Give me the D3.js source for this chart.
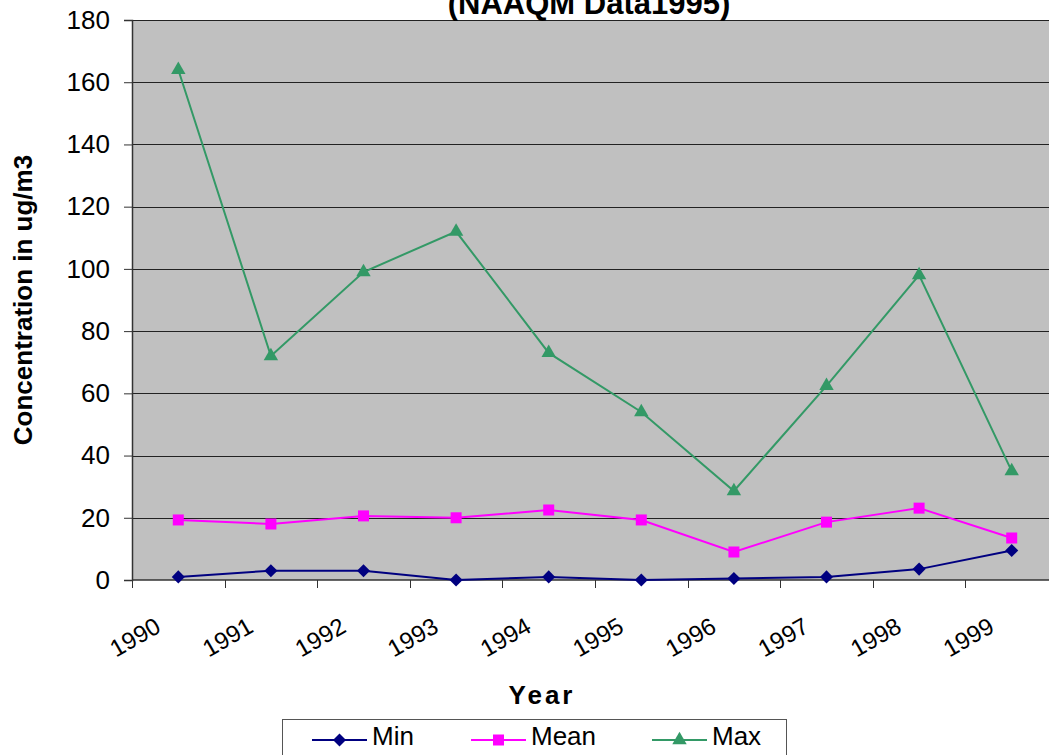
<!DOCTYPE html>
<html>
<head>
<meta charset="utf-8">
<script src="https://cdn.jsdelivr.net/npm/d3@7"></script>
<style>
  body { margin: 0; background: #fff; overflow: hidden; }
  text { font-family: "Liberation Sans", Arial, sans-serif; }
</style>
</head>
<body>
<svg id="chart" width="1049" height="755"></svg>
<script>
const years = ['1990','1991','1992','1993','1994','1995','1996','1997','1998','1999']
const minVals = [1, 3, 3, 0, 1, 0, 0.5, 1, 3.5, 9.5]
const meanVals = [19.3, 18, 20.6, 20, 22.5, 19.3, 9, 18.6, 23.1, 13.5]
const maxVals = [164, 72, 99, 112, 73, 54, 28.6, 62.4, 98, 35]
const yTicks = [0, 20, 40, 60, 80, 100, 120, 140, 160, 180]

const M = {top: 20, left: 132, right: 1058, bottom: 580}

// diamond = square turned 45 degrees
let series = [
    {name: 'Min', values: minVals, color: '#000080', shape: d3.symbolSquare, size: 85, rot: 45},
    {name: 'Mean', values: meanVals, color: '#ff00ff', shape: d3.symbolSquare, size: 121, rot: 0},
    {name: 'Max', values: maxVals, color: '#339966', shape: d3.symbolTriangle, size: 90, rot: 0}
]

let svg = d3.select('#chart')

let x = d3.scaleBand()
    .domain(years)
    .range([M.left, M.right])

let y = d3.scaleLinear()
    .domain([0, 180])
    .range([M.bottom, M.top])

// plot area
svg.append('rect')
    .attr('x', M.left)
    .attr('y', M.top)
    .attr('width', M.right - M.left)
    .attr('height', M.bottom - M.top)
    .attr('fill', '#c0c0c0')

// gridlines
svg.append('g')
    .selectAll('line')
    .data(yTicks.filter(d => d > 0))
    .enter()
    .append('line')
    .attr('x1', M.left)
    .attr('x2', M.right)
    .attr('y1', d => Math.round(y(d)) + 0.5)
    .attr('y2', d => Math.round(y(d)) + 0.5)
    .attr('stroke', '#222')
    .attr('stroke-width', 1)

// y axis
let yAxis = svg.append('g')
    .attr('transform', 'translate(' + M.left + ',0)')
    .call(d3.axisLeft(y).tickValues(yTicks).tickSize(8).tickPadding(14))
yAxis.selectAll('text')
    .style('font-size', '26px')
    .attr('fill', '#000')
yAxis.selectAll('line').attr('stroke', '#333')
yAxis.select('.domain').attr('stroke', '#333').attr('stroke-width', 1.5)

// x axis: ticks on category boundaries
let xAxis = svg.append('g')
    .attr('transform', 'translate(0,' + M.bottom + ')')
xAxis.append('line')
    .attr('x1', M.left)
    .attr('x2', M.right)
    .attr('stroke', '#333')
    .attr('stroke-width', 1.5)
xAxis.selectAll('.tk')
    .data(years)
    .enter()
    .append('line')
    .attr('class', 'tk')
    .attr('x1', d => Math.round(x(d)) + 0.5)
    .attr('x2', d => Math.round(x(d)) + 0.5)
    .attr('y1', 0)
    .attr('y2', 8)
    .attr('stroke', '#333')

xAxis.selectAll('.lbl')
    .data(years)
    .enter()
    .append('text')
    .attr('class', 'lbl')
    .attr('text-anchor', 'end')
    .attr('transform', d => 'translate(' + (x(d) + x.bandwidth() / 2 - 16) + ',51) rotate(-30)')
    .style('font-size', '24px')
    .text(d => d)

// lines and markers
let line = d3.line()
    .x((d, i) => x(years[i]) + x.bandwidth() / 2)
    .y(d => y(d))

series.forEach(s => {
    svg.append('path')
        .datum(s.values)
        .attr('d', line)
        .attr('fill', 'none')
        .attr('stroke', s.color)
        .attr('stroke-width', 2)

    svg.append('g')
        .selectAll('path')
        .data(s.values)
        .enter()
        .append('path')
        .attr('d', d3.symbol().type(s.shape).size(s.size))
        .attr('transform', (d, i) => 'translate(' + (x(years[i]) + x.bandwidth() / 2) + ',' + y(d) + ') rotate(' + s.rot + ')')
        .attr('fill', s.color)
})

// titles (first title line is above the visible area)
svg.append('text')
    .attr('x', 589)
    .attr('y', 14)
    .attr('text-anchor', 'middle')
    .style('font-size', '31px')
    .style('font-weight', 'bold')
    .text('(NAAQM Data1995)')

svg.append('text')
    .attr('x', 542)
    .attr('y', 704)
    .attr('text-anchor', 'middle')
    .style('font-size', '26px')
    .style('font-weight', 'bold')
    .style('letter-spacing', '3px')
    .text('Year')

svg.append('text')
    .attr('transform', 'translate(32,300) rotate(-90)')
    .attr('text-anchor', 'middle')
    .style('font-size', '26px')
    .style('font-weight', 'bold')
    .text('Concentration in ug/m3')

// legend
let legend = svg.append('g')
legend.append('rect')
    .attr('x', 282.5)
    .attr('y', 719.5)
    .attr('width', 504)
    .attr('height', 50)
    .attr('fill', '#fff')
    .attr('stroke', '#555')

let legX = [312, 471, 652]
series.forEach((s, i) => {
    let g = legend.append('g').attr('transform', 'translate(' + legX[i] + ',740)')
    g.append('line')
        .attr('x1', 0)
        .attr('x2', 55)
        .attr('stroke', s.color)
        .attr('stroke-width', 2)
    g.append('path')
        .attr('d', d3.symbol().type(s.shape).size(s.size))
        .attr('transform', 'translate(27.5,0) rotate(' + s.rot + ')')
        .attr('fill', s.color)
    g.append('text')
        .attr('x', 60)
        .attr('y', 5)
        .style('font-size', '26px')
        .text(s.name)
})
</script>
</body>
</html>
